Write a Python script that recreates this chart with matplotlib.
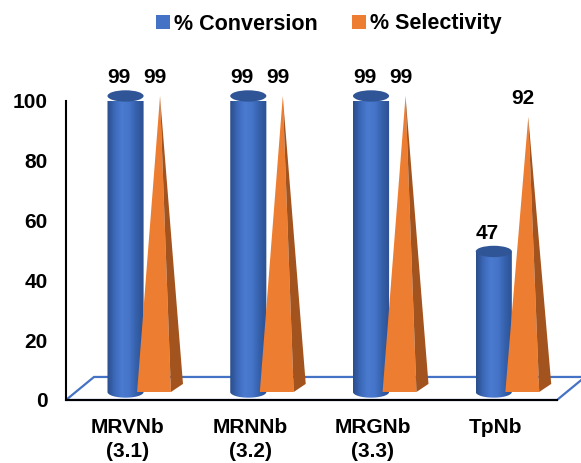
import numpy as np
import matplotlib
matplotlib.use("Agg")
import matplotlib.pyplot as plt
from matplotlib import transforms
from matplotlib.patches import Polygon, Ellipse, Patch
from matplotlib.colors import LinearSegmentedColormap

catalysts = ["MRVNb\n(3.1)", "MRNNb\n(3.2)", "MRGNb\n(3.3)", "TpNb"]
conversion = [99, 99, 99, 47]
selectivity = [99, 99, 99, 92]
y_ticks = [0, 20, 40, 60, 80, 100]

blue = "#4472C4"
blue_top = "#2F5597"
orange = "#ED7D31"
orange_side = "#A3531D"

plt.rcParams["font.family"] = ["Liberation Sans", "DejaVu Sans"]
plt.rcParams["font.weight"] = "bold"

fig = plt.figure(figsize=(5.81, 4.63), dpi=100)
ax = fig.add_axes([0.1136, 0.1361, 0.8451, 0.6458])
ax.set_autoscale_on(False)
ax.set_xlim(0, 4)
ax.set_ylim(0, 100)

# floor of the 3-D chart, receding up and to the right
depth_x, depth_y = 0.228, 7.7
floor = Polygon([(0, 0), (4, 0), (4 + depth_x, depth_y), (depth_x, depth_y)],
                closed=True, facecolor="white", edgecolor=blue, lw=1.6,
                zorder=0.5, clip_on=False)
ax.add_patch(floor)

# both series stand about a third of the way back on the floor
bar_trans = transforms.offset_copy(ax.transData, fig=fig, x=9.7, y=8, units="dots")

cyl_cmap = LinearSegmentedColormap.from_list(
    "cyl", ["#2B4E8C", "#3C68B9", "#4A7BD0", "#4574C8", "#3560AA", "#2C5092"])
grad = np.linspace(0, 1, 64)[None, :]

rx, ry = 0.147, 1.9
theta = np.linspace(np.pi, 2 * np.pi, 40)

for i, (conv, sel) in enumerate(zip(conversion, selectivity)):
    # cylinder for conversion
    cx = i + 0.406
    x0, x1 = cx - rx, cx + rx
    body = [(x0, conv)] + list(zip(cx + rx * np.cos(theta), ry * np.sin(theta))) + [(x1, conv)]
    body_patch = Polygon(body, closed=True, facecolor="none", edgecolor="none",
                         transform=bar_trans, clip_on=False, zorder=3)
    ax.add_patch(body_patch)
    im = ax.imshow(grad, extent=(x0, x1, -ry, conv), transform=bar_trans,
                   cmap=cyl_cmap, aspect="auto", interpolation="bilinear", zorder=3)
    im.set_clip_path(body_patch)
    im.set_clip_box(None)
    ax.add_patch(Ellipse((cx, conv), 2 * rx, 2 * ry, transform=bar_trans,
                         facecolor=blue_top, edgecolor="none", zorder=3.1, clip_on=False))

    # pyramid for selectivity
    xl, xr, xa = i + 0.50, i + 0.776, i + 0.687
    ax.add_patch(Polygon([(xl, 0), (xr, 0), (xa, sel)], closed=True, facecolor=orange,
                         edgecolor="none", transform=bar_trans, zorder=4, clip_on=False))
    ax.add_patch(Polygon([(xr, 0), (xr + 0.098, 2.7), (xa, sel)], closed=True,
                         facecolor=orange_side, edgecolor="none", transform=bar_trans,
                         zorder=4, clip_on=False))

    ax.annotate(str(conv), xy=(i + 0.353, conv), xycoords=bar_trans,
                xytext=(0, 13.2), textcoords="offset points",
                ha="center", va="center", fontsize=15, fontweight="bold")
    ax.annotate(str(sel), xy=(i + 0.646, sel), xycoords=bar_trans,
                xytext=(0, 13.2), textcoords="offset points",
                ha="center", va="center", fontsize=15, fontweight="bold")

ax.set_yticks(y_ticks)
ax.set_xticks([i + 0.5 for i in range(len(catalysts))])
ax.set_xticklabels(catalysts, linespacing=1.35)
ax.tick_params(axis="y", length=0, pad=13, labelsize=15)
ax.tick_params(axis="x", length=0, pad=13, labelsize=15)

for side in ["top", "right"]:
    ax.spines[side].set_visible(False)
for side in ["left", "bottom"]:
    ax.spines[side].set_color("black")
    ax.spines[side].set_linewidth(1.5)

handles = [Patch(facecolor=blue), Patch(facecolor=orange)]
fig.legend(handles, ["% Conversion", "% Selectivity"], loc="center",
           bbox_to_anchor=(0.566, 1 - 24 / 463), ncol=2, frameon=False,
           fontsize=15.5, handlelength=0.65, handleheight=0.65,
           handletextpad=0.2, columnspacing=1.6)

fig.savefig("out.png", dpi=100)
